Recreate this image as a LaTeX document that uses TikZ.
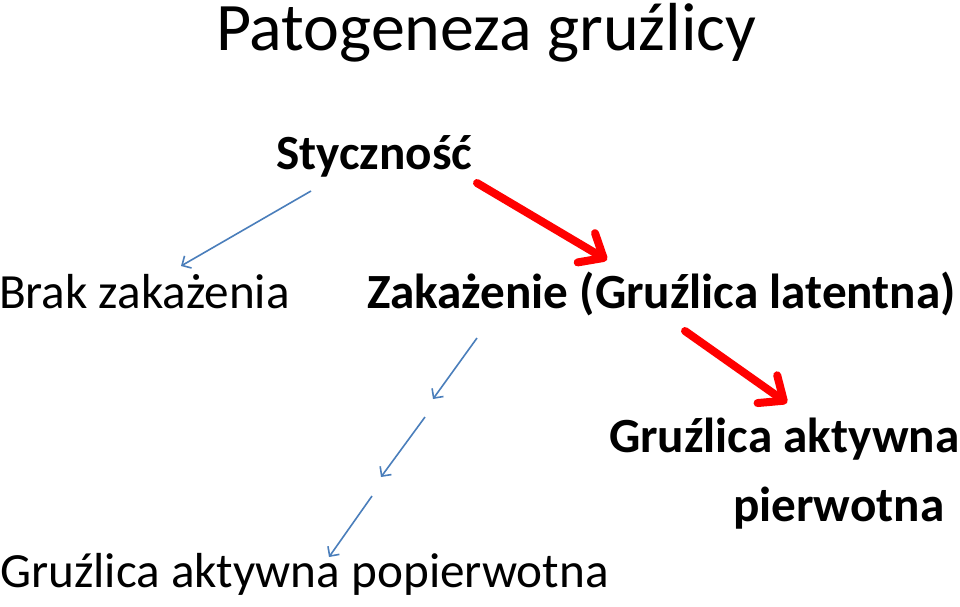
\documentclass[tikz,border=0pt]{standalone}
\usepackage{fontspec}
\setmainfont{Carlito}
\usetikzlibrary{arrows.meta}
\definecolor{arrblue}{HTML}{4A7EBB}
\definecolor{arrred}{HTML}{FF0000}
\begin{document}
\begin{tikzpicture}[x=1pt,y=-1pt,
  txt/.style={anchor=base west,inner sep=0pt,outer sep=0pt,font=\fontsize{49.2}{58}\selectfont},
  btxt/.style={txt,font=\fontsize{49.2}{58}\selectfont\bfseries},
  thinarr/.style={draw=arrblue,line width=1.6pt,-{Straight Barb[length=7pt,width=14pt]}},
  thickarr/.style={draw=arrred,line width=8pt,line cap=round,-{Straight Barb[length=20pt,width=34pt,line cap=round,line join=round]}}]
\useasboundingbox (0,0) rectangle (960,606);
\node[txt,font=\fontsize{68}{80}\selectfont] (title) at (216,50) {Patogeneza gruźlicy};
\node[btxt] (stycz) at (276,169) {Styczność};
\node[txt] (brak) at (-1,308) {Brak zakażenia};
\node[btxt] (zak) at (367,308) {Zakażenie (Gruźlica latentna)};
\node[btxt] (akt) at (609,452) {Gruźlica aktywna};
\node[btxt] (pierw) at (733,521) {pierwotna};
\node[txt] (popierw) at (0,587) {Gruźlica aktywna popierwotna};
\coordinate (b1s) at (311,191);
\coordinate (b1e) at (181,266);
\coordinate (r1s) at (477,183);
\coordinate (r1e) at (607,260);
\coordinate (b2s) at (477,338);
\coordinate (b2e) at (433,399);
\coordinate (b3s) at (425,417);
\coordinate (b3e) at (381,477);
\coordinate (b4s) at (372,496);
\coordinate (b4e) at (329,557);
\coordinate (r2s) at (685,331);
\coordinate (r2e) at (787,403);
\draw[thinarr] (b1s) -- (b1e);
\draw[thickarr] (r1s) -- (r1e);
\draw[thinarr] (b2s) -- (b2e);
\draw[thinarr] (b3s) -- (b3e);
\draw[thinarr] (b4s) -- (b4e);
\draw[thickarr] (r2s) -- (r2e);
\end{tikzpicture}
\end{document}
